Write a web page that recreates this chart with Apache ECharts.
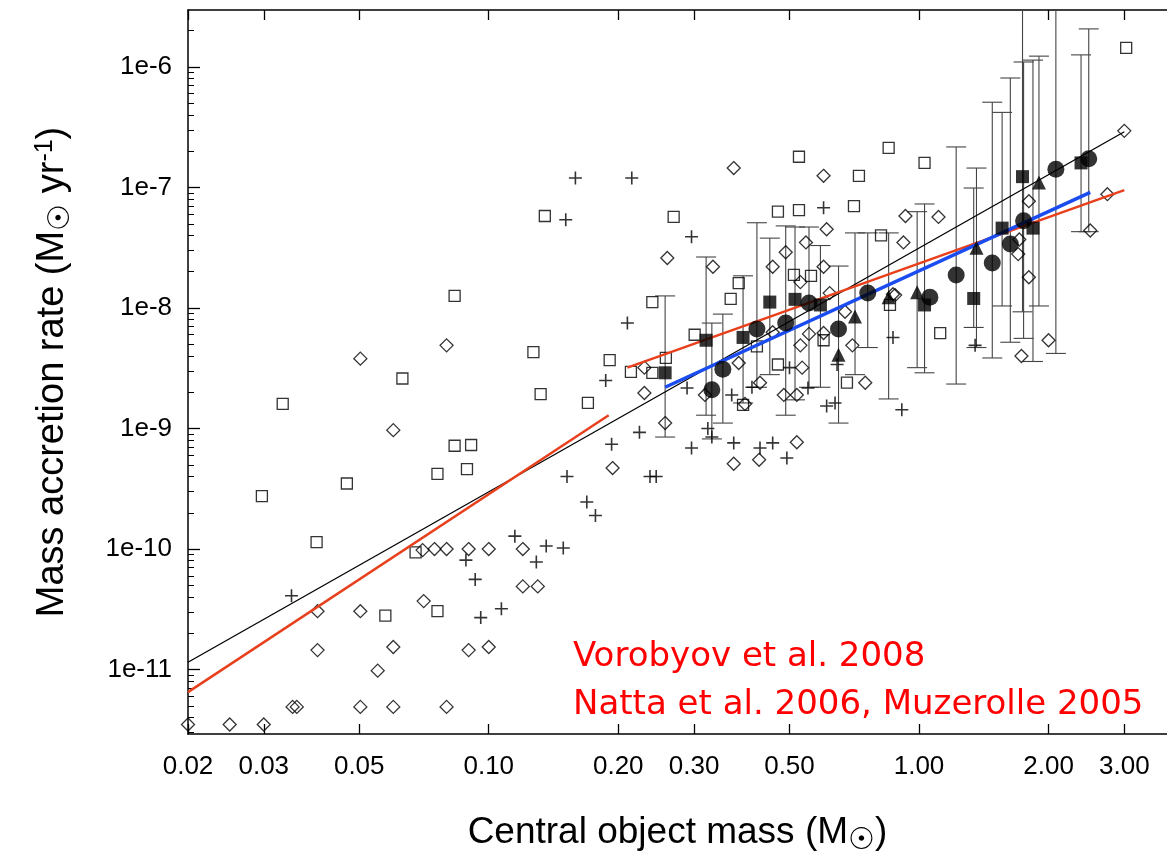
<!DOCTYPE html>
<html>
<head>
<meta charset="utf-8">
<script src="https://cdn.jsdelivr.net/npm/echarts@6/dist/echarts.min.js"></script>
<style>html,body{margin:0;padding:0;background:#fff}#main{width:1167px;height:851px}</style>
</head>
<body>
<div id="main"></div>
<script>
// tick labels
var xTicks = [0.02, 0.03, 0.05, 0.10, 0.20, 0.30, 0.50, 1.00, 2.00, 3.00];
var yTicks = [1e-11, 1e-10, 1e-9, 1e-8, 1e-7, 1e-6];

// open squares [mass, rate]
var openSquares = [[0.0833,1.26e-8],[0.0332,1.6e-9],[0.063,2.6e-9],[0.127,4.3e-9],[0.132,1.93e-9],[0.17,1.63e-9],
  [0.0833,7.2e-10],[0.091,7.3e-10],[0.076,4.2e-10],[0.089,4.6e-10],[0.0468,3.5e-10],[0.0297,2.75e-10],
  [0.0398,1.14e-10],[0.0676,9.4e-11],[0.0575,2.8e-11],[0.076,3.05e-11],[0.135,5.8e-8],
  [0.526,1.8e-7],[0.85,2.13e-7],[0.725,1.25e-7],[0.706,7.0e-8],[0.47,6.3e-8],[0.526,6.5e-8],[0.269,5.7e-8],
  [0.24,1.12e-8],[0.191,3.7e-9],[0.214,2.95e-9],[0.24,2.9e-9],[0.258,3.85e-9],[0.301,6.0e-9],[0.381,1.61e-8],
  [0.365,1.19e-8],[0.42,4.8e-9],[0.47,3.4e-9],[0.512,1.88e-8],[0.561,1.85e-8],[0.60,5.4e-9],[0.68,2.4e-9],
  [0.816,4.0e-8],[0.39,1.57e-9],[0.856,1.06e-8],[3.03,1.44e-6],[1.03,1.6e-7],[1.12,6.2e-9]];

// open diamonds
var openDiamonds = [[0.0503,3.8e-9],[0.0798,4.9e-9],[0.060,9.7e-10],[0.0702,9.8e-11],[0.0748,1e-10],[0.0798,1e-10],
  [0.0898,1e-10],[0.1,1e-10],[0.12,1e-10],[0.12,4.9e-11],[0.13,4.9e-11],[0.0706,3.7e-11],[0.040,3.05e-11],
  [0.0503,3.05e-11],[0.040,1.45e-11],[0.060,1.54e-11],[0.0898,1.45e-11],[0.1,1.54e-11],[0.0552,9.8e-12],
  [0.035,4.9e-12],[0.0358,4.9e-12],[0.0503,4.9e-12],[0.060,4.9e-12],[0.0798,4.9e-12],[0.02,3.5e-12],
  [0.025,3.5e-12],[0.03,3.5e-12],
  [0.371,1.45e-7],[0.60,1.25e-7],[0.93,5.8e-8],[0.92,3.5e-8],[0.61,4.5e-8],[0.546,3.5e-8],[0.26,2.6e-8],
  [0.332,2.2e-8],[0.49,2.9e-8],[0.457,2.2e-8],[0.60,2.2e-8],[0.53,1.64e-8],[0.62,1.33e-8],[0.673,9.3e-9],
  [0.88,1.28e-8],[0.457,6.3e-9],[0.555,6.1e-9],[0.53,4.9e-9],[0.60,6.2e-9],[0.70,4.9e-9],[0.381,3.5e-9],
  [0.535,3.2e-9],[0.23,3.2e-9],[0.23,1.97e-9],[0.257,1.11e-9],[0.318,1.9e-9],[0.394,1.6e-9],[0.427,2.4e-9],
  [0.485,1.9e-9],[0.52,1.9e-9],[0.75,2.4e-9],[0.52,7.7e-10],[0.371,5.1e-10],[0.425,5.5e-10],[0.194,4.7e-10],
  [3.0,2.95e-7],[2.74,8.8e-8],[2.5,4.4e-8],[1.80,7.7e-8],[1.71,3.7e-8],[1.70,2.8e-8],[1.80,1.8e-8],
  [2.0,5.4e-9],[1.73,4.0e-9],[1.11,5.7e-8],[0.87,1.3e-8]];

// crosses
var crosses = [[0.0348,4.1e-11],[0.115,1.28e-10],[0.136,1.06e-10],[0.149,1.02e-10],[0.0885,8.1e-11],[0.129,7.8e-11],
  [0.093,5.6e-11],[0.107,3.2e-11],[0.0958,2.7e-11],[0.152,4.0e-10],[0.169,2.46e-10],[0.177,1.9e-10],
  [0.159,1.2e-7],[0.151,5.4e-8],[0.215,1.2e-7],[0.21,7.5e-9],[0.187,2.5e-9],[0.193,7.4e-10],
  [0.296,3.9e-8],[0.289,2.17e-9],[0.224,9.3e-10],[0.237,4.0e-10],[0.245,4.0e-10],[0.296,6.9e-10],[0.323,1.0e-9],
  [0.33,8.5e-10],[0.367,1.9e-9],[0.371,7.6e-10],[0.409,2.2e-9],[0.427,6.9e-10],[0.457,7.6e-10],[0.493,5.7e-10],
  [0.50,3.2e-9],[0.552,2.17e-9],[0.60,6.8e-8],[0.61,1.54e-9],[0.638,1.63e-9],[0.645,3.4e-9],[0.87,5.7e-9],
  [0.912,1.43e-9],[1.35,4.9e-9]];

// filled symbols
var filledCircles = [[0.33,2.1e-9],[0.35,3.1e-9],[0.42,6.7e-9],[0.49,7.5e-9],[0.555,1.1e-8],[0.65,6.7e-9],
  [0.76,1.33e-8],[1.06,1.23e-8],[1.22,1.88e-8],[1.48,2.36e-8],[1.63,3.4e-8],[1.75,5.3e-8],[2.08,1.42e-7],[2.48,1.73e-7]];
var filledSquares = [[0.257,2.9e-9],[0.32,5.4e-9],[0.39,5.7e-9],[0.45,1.12e-8],[0.515,1.18e-8],[0.59,1.06e-8],
  [1.03,1.06e-8],[1.34,1.2e-8],[1.56,4.6e-8],[1.74,1.23e-7],[1.84,4.6e-8],[2.38,1.6e-7]];
var filledTriangles = [[0.65,4.1e-9],[0.71,8.5e-9],[0.85,1.23e-8],[0.99,1.35e-8],[1.36,3.16e-8],[1.90,1.1e-7]];

// error bars [mass, low, high]
var errorBars = [[0.257,8.5e-10,1.26e-8],[0.32,1.29e-9,2.65e-8],[0.33,8.2e-10,7.5e-9],[0.35,1.11e-9,8.9e-9],
  [0.39,1.63e-9,1.85e-8],[0.42,2.2e-9,5.1e-8],[0.45,2.8e-9,3.8e-8],[0.49,1.29e-9,4.8e-8],[0.515,1.73e-9,4.7e-8],
  [0.555,2.2e-9,4.7e-8],[0.59,2.2e-9,3.3e-8],[0.65,1.11e-9,2.23e-8],[0.71,2.8e-9,4.2e-8],[0.76,4.7e-9,4.2e-8],
  [0.85,1.76e-9,4.2e-8],[0.99,3.2e-9,6.3e-8],[1.03,2.9e-9,7.3e-8],[1.22,2.34e-9,2.17e-7],[1.34,6.9e-9,9.9e-8],
  [1.36,4.7e-9,1.45e-7],[1.48,3.85e-9,5.1e-7],[1.56,1.04e-8,4.2e-7],[1.63,5.2e-9,8.1e-7],[1.74,9.3e-9,1e-5],
  [1.75,5.6e-9,1.1e-6],[1.84,3.6e-9,1.14e-6],[1.90,1.04e-8,1.23e-6],[2.08,4.2e-9,1e-5],[2.38,4.3e-8,1.26e-6],
  [2.48,4.3e-8,2.07e-6]];

// fit lines (end points)
var fitBlack = [[0.02,1.15e-11],[3.0,2.9e-7]];
var fitRedLow = [[0.02,6.5e-12],[0.19,1.29e-9]];
var fitRedHigh = [[0.21,3.2e-9],[3.0,9.5e-8]];
var fitBlue = [[0.257,2.2e-9],[2.5,9.1e-8]];

var yMinor = [];
for (var n = -12; n <= -6; n++) for (var k = 2; k <= 9; k++) yMinor.push(k * Math.pow(10, n));

var chart = echarts.init(document.getElementById('main'));
var hollow = { color: 'rgba(0,0,0,0)', borderColor: '#000', borderWidth: 1.3 };
var tickFont = { fontFamily: 'Liberation Sans', fontSize: 26, color: '#000' };
var yMin = 2.92e-12, yMax = 2.97e-6;

function xAxisCfg(pos, labels) {
  return {
    type: 'log', position: pos, min: 0.02, max: 3.77,
    axisLine: { show: true, onZero: false, lineStyle: { color: '#000', width: 1.5 } },
    splitLine: { show: false },
    axisTick: { inside: true, length: 10, customValues: xTicks, lineStyle: { color: '#000', width: 1.3 } },
    axisLabel: Object.assign({ show: labels, margin: 20, customValues: xTicks,
      formatter: function (v) { return v.toFixed(2); } }, tickFont)
  };
}

chart.setOption({
  animation: false,
  grid: { left: 188, top: 10, right: 0, bottom: 117, outerBoundsMode: 'none', containLabel: false },
  xAxis: [
    Object.assign(xAxisCfg('bottom', true), {
      name: 'Central object mass (M{s|☉})', nameLocation: 'middle', nameGap: 76,
      nameTextStyle: { fontFamily: 'Liberation Sans', fontSize: 37, color: '#000',
        rich: { s: { fontSize: 30, padding: [16, 0, 0, 0] } } }
    }),
    xAxisCfg('top', false)
  ],
  yAxis: [
    {
      type: 'log', min: yMin, max: yMax,
      axisLine: { show: true, lineStyle: { color: '#000', width: 1.5 } },
      splitLine: { show: false },
      axisTick: { inside: true, length: 12, customValues: yTicks, lineStyle: { color: '#000', width: 1.3 } },
      axisLabel: Object.assign({ margin: 16, customValues: yTicks,
        formatter: function (v) { return '1e' + Math.round(Math.log10(v)); } }, tickFont),
      name: 'Mass accretion rate (M{s|☉} yr{p|-1})', nameLocation: 'middle', nameGap: 112,
      nameTextStyle: { fontFamily: 'Liberation Sans', fontSize: 38, color: '#000',
        rich: { s: { fontSize: 30, padding: [16, 0, 0, 0] }, p: { fontSize: 25, padding: [0, 0, 16, 0] } } }
    },
    {
      type: 'log', min: yMin, max: yMax, position: 'left',
      axisLine: { show: false }, splitLine: { show: false }, axisLabel: { show: false },
      axisTick: { inside: true, length: 6, customValues: yMinor, lineStyle: { color: '#000', width: 1 } }
    }
  ],
  series: [
    {
      type: 'custom', data: errorBars, clip: true, z: 1,
      renderItem: function (params, api) {
        var lo = api.coord([api.value(0), api.value(1)]);
        var hi = api.coord([api.value(0), api.value(2)]);
        var w = 10, st = { stroke: '#444', lineWidth: 1.1 };
        return { type: 'group', children: [
          { type: 'line', shape: { x1: lo[0], y1: lo[1], x2: hi[0], y2: hi[1] }, style: st },
          { type: 'line', shape: { x1: lo[0] - w, y1: lo[1], x2: lo[0] + w, y2: lo[1] }, style: st },
          { type: 'line', shape: { x1: hi[0] - w, y1: hi[1], x2: hi[0] + w, y2: hi[1] }, style: st }
        ] };
      }
    },
    { type: 'line', data: fitBlack, showSymbol: false, lineStyle: { color: '#000', width: 1.3 }, z: 3 },
    { type: 'line', data: fitRedLow, showSymbol: false, lineStyle: { color: '#e8401c', width: 2.5 }, z: 3 },
    { type: 'line', data: fitRedHigh, showSymbol: false, lineStyle: { color: '#e8401c', width: 2.5 }, z: 3 },
    { type: 'line', data: fitBlue, showSymbol: false, lineStyle: { color: '#1a4cf0', width: 3.5 }, z: 3 },
    { type: 'scatter', data: openSquares, symbol: 'rect', symbolSize: 11, itemStyle: hollow, z: 2 },
    { type: 'scatter', data: openDiamonds, symbol: 'path://M5,0L10,5L5,10L0,5Z', symbolSize: 13, itemStyle: hollow, z: 2 },
    { type: 'scatter', data: crosses, symbol: 'path://M0,5L10,5M5,0L5,10', symbolSize: 13,
      itemStyle: { color: 'none', borderColor: '#000', borderWidth: 1.6 }, z: 2 },
    { type: 'scatter', data: filledCircles, symbol: 'circle', symbolSize: 17, itemStyle: { color: '#000' }, z: 4 },
    { type: 'scatter', data: filledSquares, symbol: 'rect', symbolSize: 13, itemStyle: { color: '#000' }, z: 4 },
    { type: 'scatter', data: filledTriangles, symbol: 'triangle', symbolSize: 14, itemStyle: { color: '#000' }, z: 4 }
  ],
  graphic: [
    { type: 'text', left: 573, top: 640, style: { text: 'Vorobyov et al. 2008', fill: '#ff0000',
      font: '34px "DejaVu Sans"' } },
    { type: 'text', left: 573, top: 688, style: { text: 'Natta et al. 2006, Muzerolle 2005', fill: '#ff0000',
      font: '34px "DejaVu Sans"' } }
  ]
});
</script>
</body>
</html>
